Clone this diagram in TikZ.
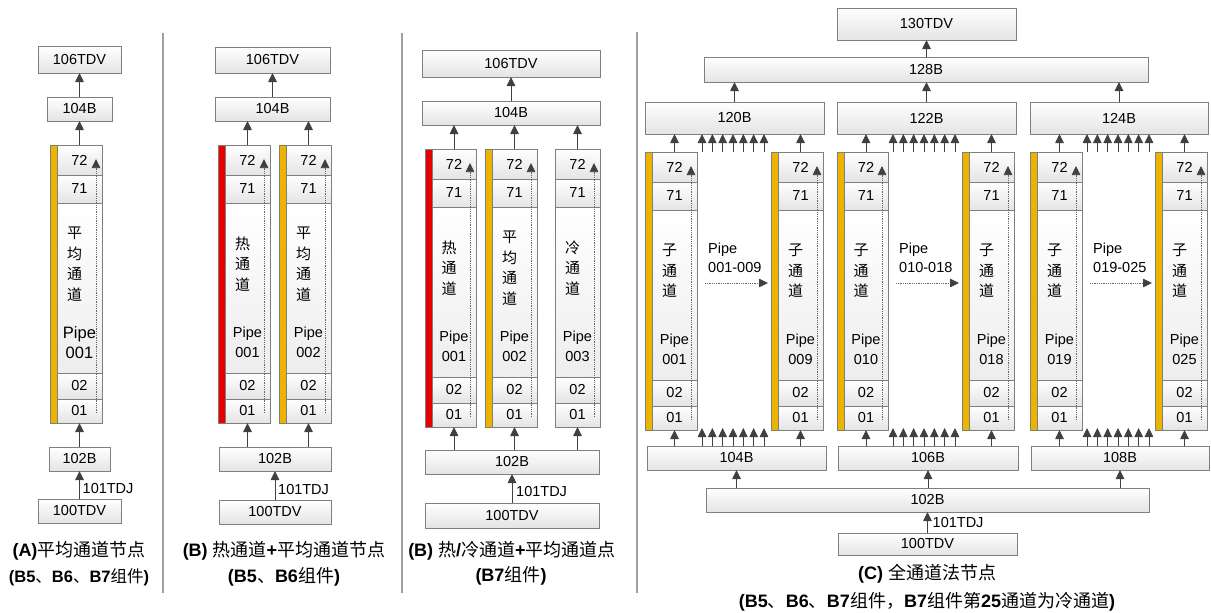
\documentclass[tikz,border=0pt]{standalone}
\usepackage{fontspec}
\setmainfont{Liberation Sans}
\newfontfamily\cjk{Noto Sans CJK SC}
\usetikzlibrary{arrows.meta,calc}
\definecolor{boxgray}{HTML}{7F7F7F}
\definecolor{arrgray}{HTML}{404040}
\definecolor{sepgray}{HTML}{A0A0A0}
\definecolor{boxfill}{HTML}{E4E4E4}
\definecolor{barorange}{HTML}{EEB200}
\definecolor{barred}{HTML}{E60000}
\newcommand\zh[1]{{\cjk #1}}
\newcommand\fs{\fontsize{14.5}{17}\selectfont}
\newcommand\zhfs{\cjk\fontsize{15}{20.5}\selectfont}
\newcommand\pipefs{\fontsize{14.5}{19.5}\selectfont}
\newcommand\capfs{\fontsize{18}{21}\selectfont}
\tikzset{
  box/.style={draw=boxgray, line width=0.8pt, top color=white, bottom color=boxfill,
    inner sep=0pt, outer sep=0pt, font=\fs},
  cell/.style={box},
  arr/.style={draw=arrgray, line width=0.9pt, -{Triangle[width=8.5pt,length=9pt]}},
  dotarr/.style={draw=gray!80!black, line width=0.75pt, dash pattern=on 0.8pt off 1pt,
    -{Triangle[width=8.5pt,length=9pt,color=arrgray]}},
  sepline/.style={draw=sepgray, line width=1.1pt},
  lbl/.style={font=\fs, inner sep=0pt},
  captxt/.style={font=\capfs, inner sep=0pt}
}
% box from (x1,y1) to (x2,y2), y downwards
\newcommand\bx[6]{%
  \node[box, minimum width={#4-#2}, minimum height={#5-#3}] (#1) at ({(#2+#4)/2},{(#3+#5)/2}) {#6};}
% coloured bar to the left of a column
\newcommand\colbar[3]{%
  \draw[draw=boxgray, line width=0.6pt, fill=#3] (#1-7,#2) rectangle (#1,#2+278);}
% column: name, xl, xr, ytop, cjk lines, pipe lines
\newcommand\col[6]{%
  \pgfmathsetmacro\cx{(#2+#3)/2}%
  \pgfmathsetmacro\cw{#3-#2}%
  \node[cell, minimum width=\cw, minimum height=30, anchor=north] (#1-72) at (\cx,#4) {72};
  \node[cell, minimum width=\cw, minimum height=28, anchor=north] (#1-71) at (#1-72.south) {71};
  \node[cell, minimum width=\cw, minimum height=170, anchor=north, bottom color=black!7] (#1-m) at (#1-71.south) {};
  \node[cell, minimum width=\cw, minimum height=26, anchor=north] (#1-02) at (#1-m.south) {02};
  \node[cell, minimum width=\cw, minimum height=24, anchor=north] (#1-01) at (#1-02.south) {01};
  \node[font=\zhfs, align=center, inner sep=0pt] (#1-zh) at ([xshift=-5pt,yshift=-61pt]#1-m.north) {#5};
  \node[font=\pipefs, align=center, inner sep=0pt] (#1-p) at ([yshift=-139.5pt]#1-m.north) {#6};
  \draw[dotarr] ([xshift=-6pt,yshift=10pt]#1-01.south east) -- ([xshift=-6pt,yshift=-14pt]#1-72.north east);
}
\begin{document}
\begin{tikzpicture}[x=1pt,y=-1pt]
\useasboundingbox (0,0) rectangle (1211,613);

% separators
\draw[sepline] (163,33) -- (163,593);
\draw[sepline] (402,33) -- (402,593);
\draw[sepline] (637,32) -- (637,593);

% ================= Panel A =================
\bx{a106}{38}{46}{121}{73}{106TDV}
\bx{a104}{47}{97}{112}{121}{104B}
\colbar{57}{145}{barorange}
\renewcommand\pipefs{\fontsize{16.5}{19.5}\selectfont}
\col{a1}{57}{102}{145}{平\\均\\通\\道}{Pipe\\001}
\renewcommand\pipefs{\fontsize{14.5}{19.5}\selectfont}
\bx{a102}{49}{447}{110}{471}{102B}
\bx{a100}{38}{499}{121}{523}{100TDV}
\draw[arr] (a104.north) -- (a104.north |- a106.south);
\draw[arr] (a1-72.north) -- (a1-72.north |- a104.south);
\draw[arr] (a102.north) -- (a102.north |- a1-01.south);
\draw[arr] (a100.north) -- (a100.north |- a102.south);
\node[lbl, anchor=west] (a101) at ([xshift=3pt,yshift=10.5pt]a100.north) {101TDJ};
\node[captxt] (acap1) at (79,551) {\textbf{(A)}\zh{平均通道节点}};
\node[captxt, font=\fontsize{16.5}{20}\selectfont] (acap2) at (79,577) {\textbf{(B5}\zh{、}\textbf{B6}\zh{、}\textbf{B7}\zh{组件}\textbf{)}};

% ================= Panel B =================
\bx{b106}{215}{47}{330}{73}{106TDV}
\bx{b104}{215}{97}{330}{121}{104B}
\colbar{225}{145}{barred}
\col{b1}{225}{270}{145}{热\\通\\道}{Pipe\\001}
\colbar{286}{145}{barorange}
\col{b2}{286}{331}{145}{平\\均\\通\\道}{Pipe\\002}
\bx{b102}{219}{447}{331}{471}{102B}
\bx{b100}{219}{500}{331}{524}{100TDV}
\draw[arr] (b104.north) -- (b104.north |- b106.south);
\draw[arr] (b1-72.north) -- (b1-72.north |- b104.south);
\draw[arr] (b2-72.north) -- (b2-72.north |- b104.south);
\draw[arr] (b1-01.south |- b102.north) -- (b1-01.south);
\draw[arr] (b2-01.south |- b102.north) -- (b2-01.south);
\draw[arr] (b100.north) -- (b100.north |- b102.south);
\node[lbl, anchor=west] (b101) at ([xshift=3pt,yshift=10.5pt]b100.north) {101TDJ};
\node[captxt] (bcap1) at (284,551) {\textbf{(B)} \zh{热通道}\textbf{+}\zh{平均通道节点}};
\node[captxt] (bcap2) at (284,577) {\textbf{(B5}\zh{、}\textbf{B6}\zh{组件}\textbf{)}};

% ================= Panel B7 =================
\bx{c106}{422}{50}{600}{77}{106TDV}
\bx{c104}{422}{101}{600}{125}{104B}
\colbar{432}{149}{barred}
\col{d1}{432}{476}{149}{热\\通\\道}{Pipe\\001}
\colbar{492}{149}{barorange}
\col{d2}{492}{537}{149}{平\\均\\通\\道}{Pipe\\002}
\col{d3}{555}{600}{149}{冷\\通\\道}{Pipe\\003}
\bx{c102}{425}{450}{599}{474}{102B}
\bx{c100}{425}{503}{599}{528}{100TDV}
\draw[arr] (c104.north) -- (c104.north |- c106.south);
\draw[arr] (d1-72.north) -- (d1-72.north |- c104.south);
\draw[arr] (d2-72.north) -- (d2-72.north |- c104.south);
\draw[arr] (d3-72.north) -- (d3-72.north |- c104.south);
\draw[arr] (d1-01.south |- c102.north) -- (d1-01.south);
\draw[arr] (d2-01.south |- c102.north) -- (d2-01.south);
\draw[arr] (d3-01.south |- c102.north) -- (d3-01.south);
\draw[arr] (c100.north) -- (c100.north |- c102.south);
\node[lbl, anchor=west] (c101) at ([xshift=4pt,yshift=11pt]c100.north) {101TDJ};
\node[captxt] (ccap1) at (512,551) {\textbf{(B)} \zh{热}\textbf{/}\zh{冷通道}\textbf{+}\zh{平均通道点}};
\node[captxt] (ccap2) at (511,576) {\textbf{(B7}\zh{组件}\textbf{)}};

% ================= Panel C =================
\bx{t130}{837}{8}{1016}{40}{130TDV}
\bx{t128}{704}{57}{1148}{82}{128B}
\bx{t120}{645}{102}{824}{134}{120B}
\bx{t122}{837}{102}{1016}{134}{122B}
\bx{t124}{1030}{102}{1208}{134}{124B}
\colbar{652}{152}{barorange}
\col{e1}{652}{697}{152}{子\\通\\道}{Pipe\\001}
\colbar{778}{152}{barorange}
\col{e2}{778}{823}{152}{子\\通\\道}{Pipe\\009}
\colbar{844}{152}{barorange}
\col{e3}{844}{888}{152}{子\\通\\道}{Pipe\\010}
\colbar{969}{152}{barorange}
\col{e4}{969}{1014}{152}{子\\通\\道}{Pipe\\018}
\colbar{1037}{152}{barorange}
\col{e5}{1037}{1082}{152}{子\\通\\道}{Pipe\\019}
\colbar{1162}{152}{barorange}
\col{e6}{1162}{1207}{152}{子\\通\\道}{Pipe\\025}
\bx{t104}{647}{446}{826}{470}{104B}
\bx{t106}{838}{446}{1018}{470}{106B}
\bx{t108}{1031}{446}{1209}{470}{108B}
\bx{t102}{706}{488}{1149}{512}{102B}
\bx{t100}{838}{533}{1017}{555}{100TDV}

\draw[arr] (t128.north -| t130.south) -- (t130.south);
\draw[arr] (t120.north) -- (t120.north |- t128.south);
\draw[arr] (t122.north) -- (t122.north |- t128.south);
\draw[arr] (t124.north) -- (t124.north |- t128.south);
\draw[arr] (t102.north -| t104.south) -- (t104.south);
\draw[arr] (t102.north -| t106.south) -- (t106.south);
\draw[arr] (t102.north -| t108.south) -- (t108.south);
\draw[arr] (t100.north) -- (t100.north |- t102.south);
\node[lbl, anchor=west] (t101) at ([xshift=5pt,yshift=10pt]t100.north) {101TDJ};

\foreach \L/\R/\T/\B/\n/\m in {e1/e2/t120/t104/001/009, e3/e4/t122/t106/010/018, e5/e6/t124/t108/019/025}{
  \draw[arr] (\L-72.north) -- (\L-72.north |- \T.south);
  \draw[arr] (\R-72.north) -- (\R-72.north |- \T.south);
  \draw[arr] (\L-01.south |- \B.north) -- (\L-01.south);
  \draw[arr] (\R-01.south |- \B.north) -- (\R-01.south);
  \foreach \i in {0,...,6}{
    \path (\L-72.north east) ++(5+\i*10.33,0) coordinate (ft-\L-\i);
    \path (\L-01.south east) ++(5+\i*10.33,-2) coordinate (fb-\L-\i);
    \draw[arr] (ft-\L-\i) -- (ft-\L-\i |- \T.south);
    \draw[arr] (fb-\L-\i |- \B.north) -- (fb-\L-\i);
  }
  \node[font=\pipefs, align=left, anchor=west, inner sep=0pt] (pl-\L) at ([xshift=11pt,yshift=37pt]\L-m.east) {Pipe\\\n-\m};
  \draw[dotarr] ([xshift=8pt,yshift=12pt]\L-m.east) -- ([xshift=-10pt,yshift=12pt]\R-m.west);
}
\node[captxt] (tcap1) at (927,574) {\textbf{(C)} \zh{全通道法节点}};
\node[captxt] (tcap2) at (927,602) {\textbf{(B5}\zh{、}\textbf{B6}\zh{、}\textbf{B7}\zh{组件，}\textbf{B7}\zh{组件第}\textbf{25}\zh{通道为冷通道}\textbf{)}};
\end{tikzpicture}
\end{document}
